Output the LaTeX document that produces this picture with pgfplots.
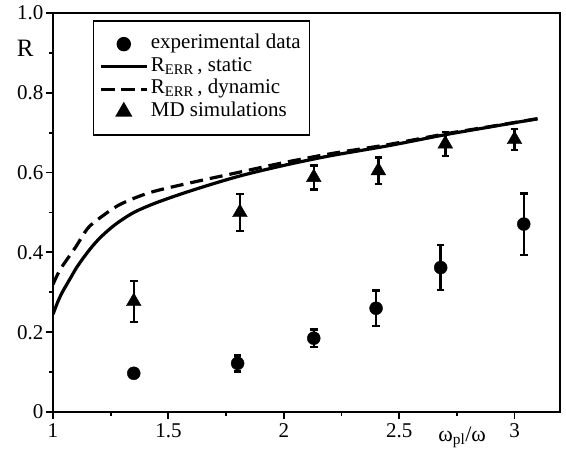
\documentclass[border=0pt]{standalone}
\usepackage{fontspec}
\setmainfont{Liberation Serif}
\usepackage{pgfplots}
\pgfplotsset{compat=1.18}
\usetikzlibrary{calc}

\pgfplotstableread{
x y e
1.35 0.097 0.010
1.80 0.122 0.020
2.13 0.185 0.022
2.40 0.260 0.045
2.68 0.362 0.056
3.04 0.471 0.077
}\expdata

\pgfplotstableread{
x y e
1.35 0.277 0.052
1.81 0.500 0.047
2.13 0.588 0.030
2.41 0.605 0.033
2.70 0.672 0.030
3.00 0.683 0.027
}\mddata

\pgfplotstableread{
x y
1.00 0.245
1.02 0.275
1.04 0.300
1.06 0.320
1.08 0.340
1.10 0.360
1.13 0.385
1.17 0.415
1.21 0.440
1.27 0.470
1.35 0.500
1.45 0.525
1.60 0.555
1.80 0.590
2.00 0.618
2.20 0.642
2.45 0.667
2.70 0.695
2.90 0.715
3.10 0.735
}\static

\pgfplotstableread{
x y
1.00 0.320
1.02 0.345
1.04 0.365
1.07 0.390
1.10 0.415
1.15 0.460
1.20 0.485
1.29 0.520
1.42 0.550
1.60 0.575
1.80 0.600
2.00 0.625
2.20 0.647
2.45 0.670
2.70 0.697
2.90 0.716
3.10 0.735
}\dynamic

\begin{document}
\begin{tikzpicture}
\begin{axis}[
  scale only axis,
  width=507bp, height=399bp,
  xmin=1, xmax=3.197, ymin=0, ymax=1,
  xtick={1,1.5,2,2.5,3}, xticklabels={1,1.5,2,2.5,3},
  ytick={0,0.2,0.4,0.6,0.8,1}, yticklabels={0,0.2,0.4,0.6,0.8,1.0},
  minor tick num=1,
  tick pos=left, tick align=outside,
  major tick length=7bp, minor tick length=4bp,
  axis line style={line width=2bp},
  every tick/.style={line width=1.8bp, black},
  tick label style={font=\fontsize{21bp}{24bp}\selectfont},
  yticklabel style={xshift=1bp},
  xticklabel style={yshift=-1bp},
  /pgf/number format/assume math mode=true,
  xlabel={ω\textsubscript{pl}/ω},
  every axis x label/.style={at={(axis description cs:0.807,0)}, anchor=base, yshift=-29bp, font=\fontsize{22bp}{24bp}\selectfont},
  ylabel={R},
  every axis y label/.style={at={(axis description cs:0,0.912)}, anchor=east, xshift=-16bp, font=\fontsize{25bp}{27bp}\selectfont},
  legend image code/.code={\draw[mark repeat=2,mark phase=2,#1] plot coordinates {(0bp,0bp) (22.5bp,0bp) (45bp,0bp)};},
  legend style={at={(axis description cs:0.0789,0.982)}, anchor=north west,
    draw=black, line width=1.4bp, font=\fontsize{21bp}{23bp}\selectfont,
    inner xsep=6bp, inner ysep=12bp, row sep=0bp,
    nodes={inner xsep=3bp, inner ysep=1.5bp, text height=14.5bp, text depth=5bp}},
  legend cell align=left,
]
\addplot+[black, only marks, mark=*, mark size=6.5bp, mark options={black, fill=black},
  error bars/.cd, y dir=both, y explicit,
  error bar style={line width=2.4bp, black},
  error mark options={rotate=90, mark size=3.8bp, line width=2.4bp, black}]
  table[x=x, y=y, y error=e] {\expdata};
\addlegendentry{experimental data}
\addplot[black, line width=3.2bp, smooth, no markers] table[x=x, y=y] {\static};
\addlegendentry{R\textsubscript{ERR}\,, static}
\addplot[black, line width=3.2bp, smooth, no markers, dash pattern=on 13bp off 7bp] table[x=x, y=y] {\dynamic};
\addlegendentry{R\textsubscript{ERR}\,, dynamic}
\addplot+[black, only marks, mark=triangle*, mark size=8.5bp, mark options={black, fill=black},
  error bars/.cd, y dir=both, y explicit,
  error bar style={line width=2.4bp, black},
  error mark options={rotate=90, mark size=3.8bp, line width=2.4bp, black}]
  table[x=x, y=y, y error=e] {\mddata};
\addlegendentry{MD simulations}
\end{axis}
\pgfresetboundingbox
\path[use as bounding box] ($(current axis.south west)+(-53bp,-41bp)$) rectangle ($(current axis.north east)+(6bp,13bp)$);
\end{tikzpicture}
\end{document}
